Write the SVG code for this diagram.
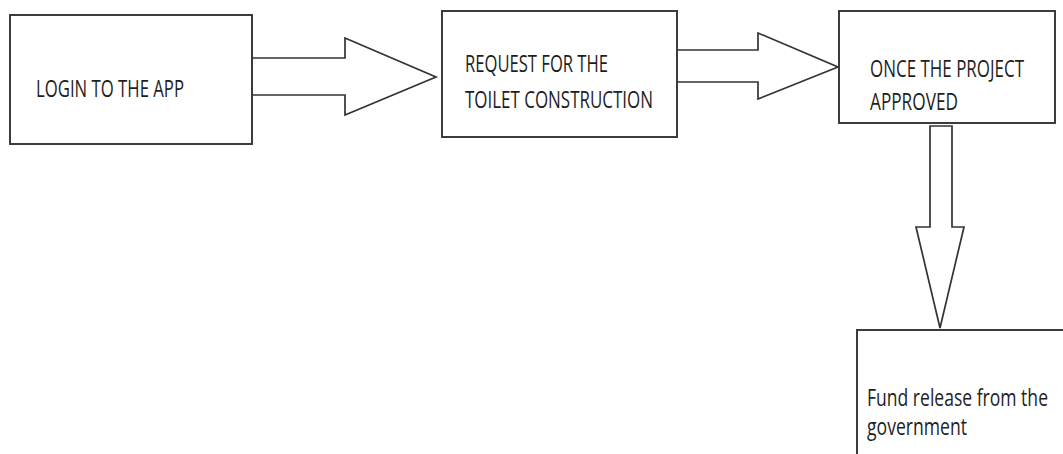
<svg xmlns="http://www.w3.org/2000/svg" width="1063" height="454" viewBox="0 0 1063 454">
<style>
.box{fill:#fff;stroke:#333;stroke-width:1.9}
.arr{fill:#fff;stroke:#333;stroke-width:1.7;stroke-linejoin:miter}
.t{font-family:"Open Sans","Liberation Sans",sans-serif;font-size:17px;fill:#1e1e1e}
</style>
<rect width="1063" height="454" fill="#fff"/>
<g id="connectors">
<path class="arr" d="M252,58 H345 V38 L436,77 L345,115 V95 H252"/>
<path class="arr" d="M677,50 H758 V33 L838,67 L758,99 V82 H677"/>
<path class="arr" d="M930,126 H952 V227 H964 L940,328 L916,227 H930 Z"/>
</g>
<g id="node-login">
<rect class="box" x="10" y="15" width="242" height="129"/>
<g transform="scale(1,1.35)">
<text class="t" x="36" y="71.85" textLength="148" lengthAdjust="spacingAndGlyphs">LOGIN TO THE APP</text>
</g>
</g>
<g id="node-request">
<rect class="box" x="442" y="11" width="235" height="126"/>
<g transform="scale(1,1.35)">
<text class="t" x="465" y="53.33" textLength="143" lengthAdjust="spacingAndGlyphs">REQUEST FOR THE</text>
<text class="t" x="465" y="80" textLength="188" lengthAdjust="spacingAndGlyphs">TOILET CONSTRUCTION</text>
</g>
</g>
<g id="node-approved">
<rect class="box" x="839" y="11" width="216" height="112"/>
<g transform="scale(1,1.35)">
<text class="t" x="870" y="57.04" textLength="154" lengthAdjust="spacingAndGlyphs">ONCE THE PROJECT</text>
<text class="t" x="870" y="81.48" textLength="88" lengthAdjust="spacingAndGlyphs">APPROVED</text>
</g>
</g>
<g id="node-fund">
<rect class="box" x="857" y="330" width="230" height="150"/>
<g transform="scale(1,1.35)">
<text class="t" x="867" y="300.74" textLength="181" lengthAdjust="spacingAndGlyphs">Fund release from the</text>
<text class="t" x="867" y="322.22" textLength="100" lengthAdjust="spacingAndGlyphs">government</text>
</g>
</g>
</svg>
